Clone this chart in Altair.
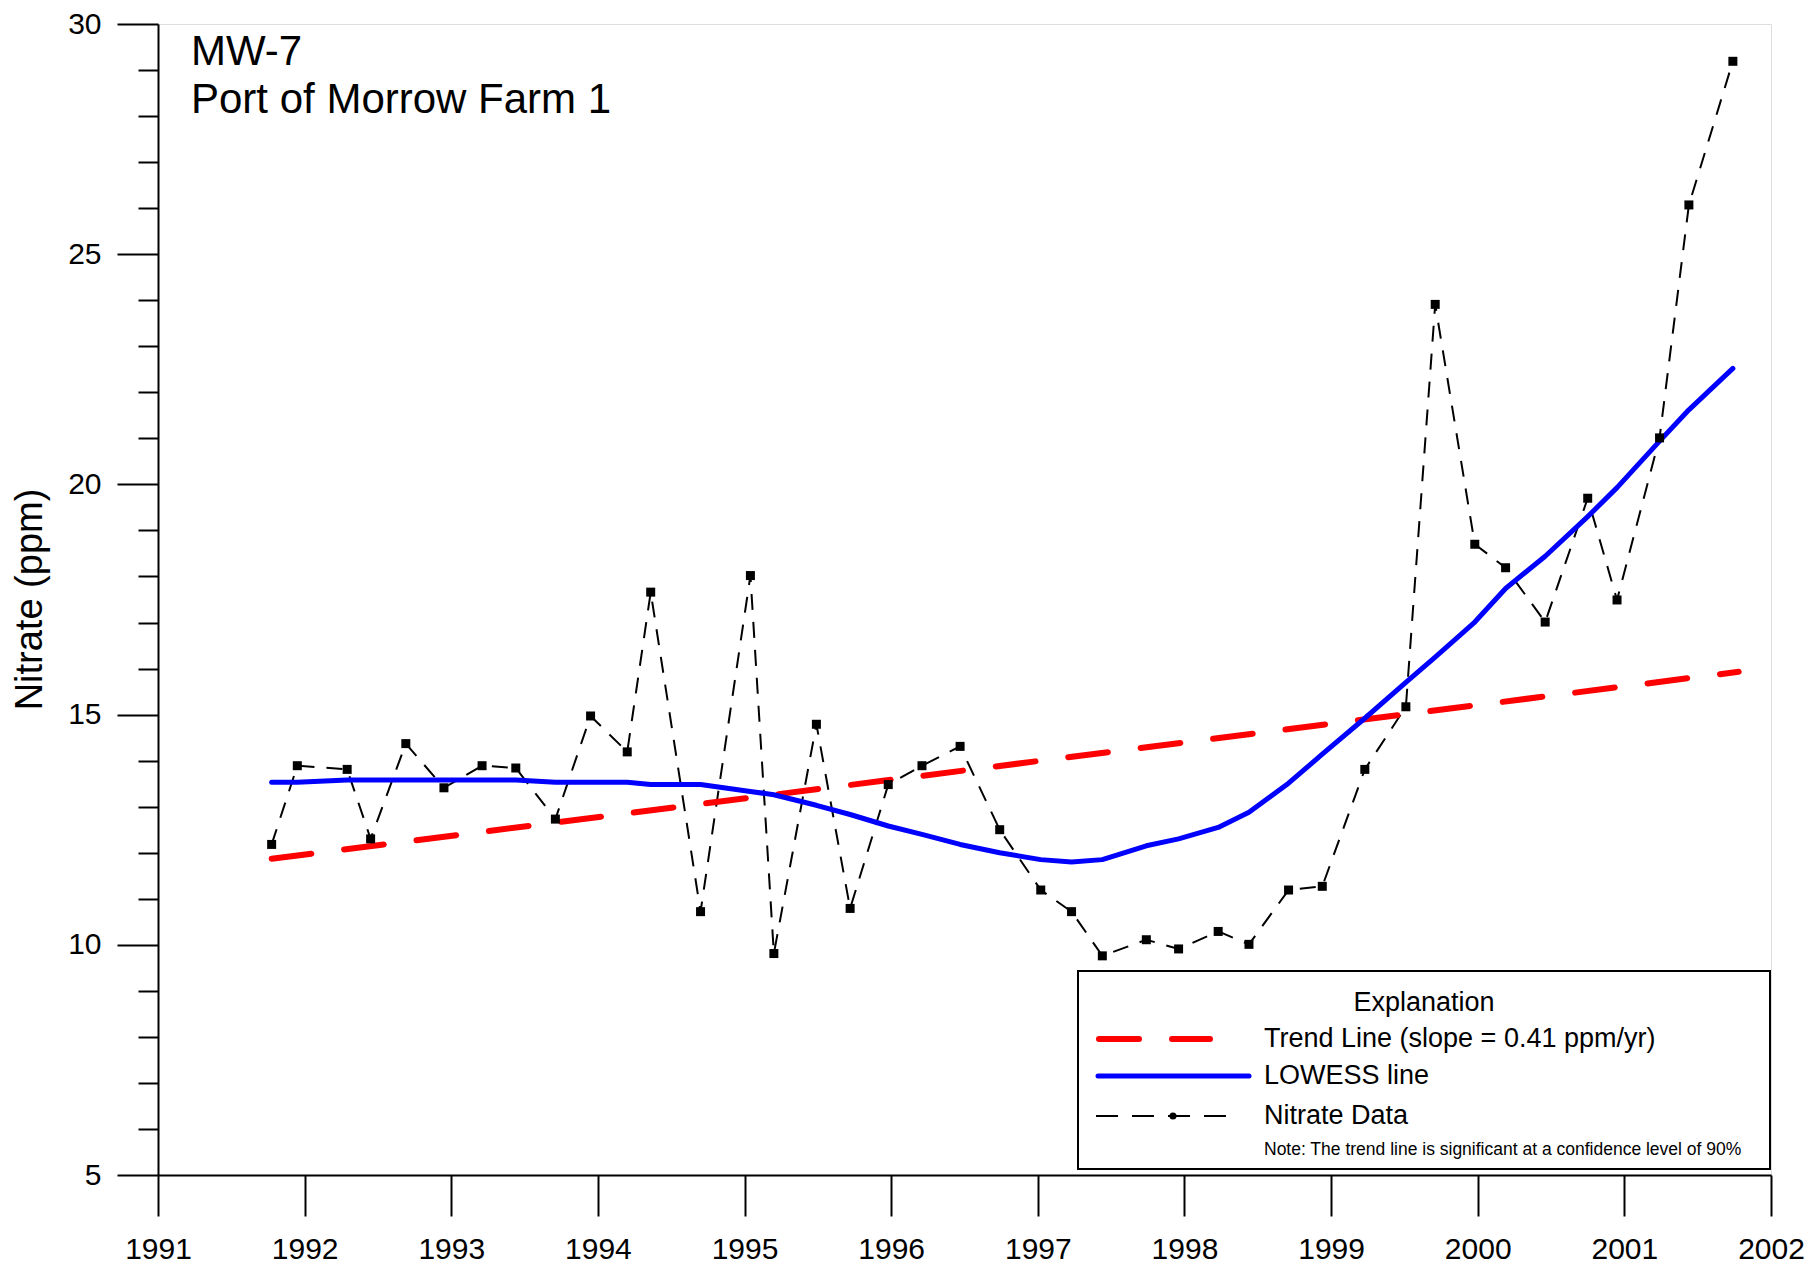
import altair as alt
import pandas as pd

# ---- data ----
years = [1991.775, 1991.95, 1992.29, 1992.45, 1992.69, 1992.95, 1993.21, 1993.44, 1993.71, 1993.95,
         1994.20, 1994.36, 1994.70, 1995.04, 1995.20, 1995.49, 1995.72, 1995.98, 1996.21, 1996.47,
         1996.74, 1997.02, 1997.23, 1997.44, 1997.74, 1997.96, 1998.23, 1998.44, 1998.71, 1998.94,
         1999.23, 1999.51, 1999.71, 1999.98, 2000.19, 2000.46, 2000.75, 2000.95, 2001.24, 2001.44, 2001.74]
nitrate = [12.18, 13.89, 13.81, 12.30, 14.37, 13.41, 13.89, 13.84, 12.73, 14.97,
           14.19, 17.66, 10.72, 18.02, 9.81, 14.79, 10.79, 13.48, 13.89, 14.31,
           12.50, 11.19, 10.72, 9.76, 10.11, 9.91, 10.29, 10.01, 11.19, 11.27,
           13.81, 15.17, 23.91, 18.70, 18.19, 17.01, 19.70, 17.49, 21.01, 26.07, 29.19]

lowess_x = [1991.775, 1991.95, 1992.29, 1992.53, 1992.95, 1993.44, 1993.71, 1994.20, 1994.36, 1994.70,
            1995.04, 1995.20, 1995.49, 1995.72, 1995.98, 1996.21, 1996.47, 1996.74, 1997.02, 1997.23,
            1997.44, 1997.74, 1997.96, 1998.23, 1998.44, 1998.71, 1998.94, 1999.23, 1999.51, 1999.71,
            1999.98, 2000.19, 2000.46, 2000.75, 2000.95, 2001.24, 2001.44, 2001.74]
lowess_y = [13.53, 13.53, 13.58, 13.58, 13.58, 13.58, 13.53, 13.53, 13.48, 13.48,
            13.33, 13.26, 13.03, 12.83, 12.58, 12.40, 12.18, 12.00, 11.85, 11.80,
            11.85, 12.15, 12.30, 12.55, 12.88, 13.51, 14.14, 14.92, 15.70, 16.25,
            17.01, 17.74, 18.44, 19.30, 19.93, 20.94, 21.62, 22.52]

trend_x = [1991.775, 2001.78]
trend_y = [11.87, 15.93]

x_ticks = [1991 + 0.25 * i for i in range(45)]
y_ticks = list(range(5, 31))

title_lines = ["MW-7", "Port of Morrow Farm 1"]
legend_title = "Explanation"
legend_labels = ["Trend Line (slope = 0.41 ppm/yr)", "LOWESS line", "Nitrate Data"]
legend_note = "Note: The trend line is significant at a confidence level of 90%"

FONT = "Liberation Sans"
W, H = 1613, 1151

data_df = pd.DataFrame({"year": years, "nitrate": nitrate})
lowess_df = pd.DataFrame({"year": lowess_x, "nitrate": lowess_y})
trend_df = pd.DataFrame({"year": trend_x, "nitrate": trend_y})
one = pd.DataFrame({"a": [0]})

x_axis = alt.Axis(
    values=x_ticks, format="d",
    labelExpr="datum.value % 1 === 0 ? datum.label : ''",
    tickSize={"condition": {"test": "datum.value % 1 === 0", "value": 41}, "value": 21},
    tickColor="black", tickWidth=2, domainColor="black", domainWidth=2,
    labelFont=FONT, labelFontSize=30, labelColor="black", labelPadding=18,
    labelFlush=False, labelOverlap=False, grid=False, title=None,
)
y_axis = alt.Axis(
    values=y_ticks,
    labelExpr="datum.value % 5 === 0 ? datum.label : ''",
    tickSize={"condition": {"test": "datum.value % 5 === 0", "value": 41}, "value": 20},
    tickColor="black", tickWidth=2, domainColor="black", domainWidth=2,
    labelFont=FONT, labelFontSize=30, labelColor="black", labelPadding=16,
    labelFlush=False, labelOverlap=False, grid=False,
    title="Nitrate (ppm)", titleFont=FONT, titleFontSize=38, titleFontWeight="normal",
    titleColor="black", titleAngle=270, titleX=-128, titleY=575,
    titleAlign="center", titleBaseline="middle",
)

xs = alt.Scale(domain=[1991, 2002], nice=False, zero=False)
ys = alt.Scale(domain=[5, 30], nice=False, zero=False)

X = alt.X("year:Q", scale=xs, axis=x_axis)
Y = alt.Y("nitrate:Q", scale=ys, axis=y_axis)

data_line = alt.Chart(data_df).mark_line(
    color="black", strokeWidth=2, strokeDash=[16, 12]
).encode(x=X, y=Y, order="year:Q")

trend_line = alt.Chart(trend_df).mark_line(
    color="#FF0000", strokeWidth=6, strokeDash=[40, 33], strokeCap="round"
).encode(x=X, y=Y)

lowess_line = alt.Chart(lowess_df).mark_line(
    color="#0000FF", strokeWidth=5, strokeCap="round", strokeJoin="round"
).encode(x=X, y=Y, order="year:Q")

points = alt.Chart(data_df).mark_square(
    color="black", size=81, opacity=1
).encode(x=X, y=Y)

# ---- title text ----
def txt(text, x, y, size, align="left"):
    return alt.Chart(one).mark_text(
        font=FONT, fontSize=size, align=align, baseline="middle", color="black"
    ).encode(x=alt.value(x), y=alt.value(y), text=alt.value(text))

t1 = txt(title_lines[0], 33, 28, 42)
t2 = txt(title_lines[1], 33, 76, 42)

# ---- legend box ----
box = alt.Chart(one).mark_rect(
    fill="white", stroke="black", strokeWidth=2
).encode(x=alt.value(920), x2=alt.value(1612), y=alt.value(947), y2=alt.value(1145))

lg_title = txt(legend_title, 1266, 979, 27, align="center")
lg1 = txt(legend_labels[0], 1106, 1015, 27)
lg2 = txt(legend_labels[1], 1106, 1052, 27)
lg3 = txt(legend_labels[2], 1106, 1092, 27)
lg_note = txt(legend_note, 1106, 1126, 17.5)

s1 = alt.Chart(one).mark_rule(
    color="#FF0000", strokeWidth=6, strokeDash=[40, 33], strokeCap="round"
).encode(x=alt.value(941), x2=alt.value(1052), y=alt.value(1015))
s2 = alt.Chart(one).mark_rule(
    color="#0000FF", strokeWidth=5, strokeCap="round"
).encode(x=alt.value(940), x2=alt.value(1091), y=alt.value(1052))
s3 = alt.Chart(one).mark_rule(
    color="black", strokeWidth=2, strokeDash=[22, 14]
).encode(x=alt.value(938), x2=alt.value(1071), y=alt.value(1092))
s3dot = alt.Chart(one).mark_circle(
    color="black", size=50, opacity=1
).encode(x=alt.value(1015), y=alt.value(1092))

chart = alt.layer(
    data_line, trend_line, lowess_line, points,
    t1, t2, box, lg_title, lg1, lg2, lg3, lg_note, s1, s2, s3, s3dot
).properties(
    width=W, height=H,
    autosize=alt.AutoSizeParams(type="none"),
    padding={"left": 150, "top": 16, "right": 38, "bottom": 90},
).configure_view(strokeWidth=0).configure(font=FONT, background="white")

chart.save("out.html", embed_options={"renderer": "svg", "actions": False})
